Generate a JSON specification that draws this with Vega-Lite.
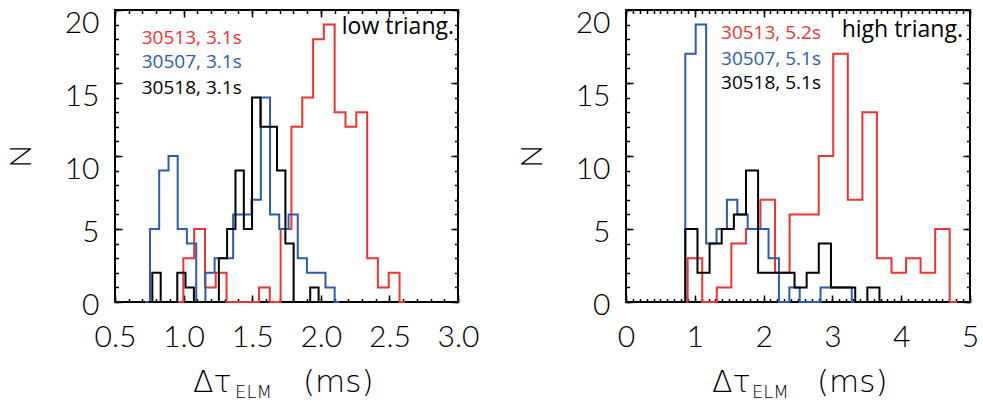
{
  "$schema": "https://vega.github.io/schema/vega-lite/v6.json",
  "background": "white",
  "padding": {"left": 5, "top": 7, "right": 0, "bottom": 0},
  "spacing": 168,
  "bounds": "flush",
  "config": {
    "view": {"stroke": "#000000", "strokeWidth": 2},
    "axis": {"domain": false, "grid": false, "tickColor": "#000000", "tickWidth": 1.5, "labelFont": "Lato", "labelFontSize": 30, "labelFontWeight": 300, "labelColor": "#000000", "titleFont": "Lato", "titleFontSize": 30, "titleFontWeight": 300, "titleColor": "#000000", "labelFlush": false, "labelOverlap": false}
  },
  "datasets": {
    "low": [
      {"s": "30513", "x": 0.959, "n": 0}, {"s": "30513", "x": 0.998, "n": 3}, {"s": "30513", "x": 1.077, "n": 5}, {"s": "30513", "x": 1.156, "n": 1}, {"s": "30513", "x": 1.234, "n": 2}, {"s": "30513", "x": 1.313, "n": 0}, {"s": "30513", "x": 1.392, "n": 0}, {"s": "30513", "x": 1.471, "n": 0}, {"s": "30513", "x": 1.550, "n": 1}, {"s": "30513", "x": 1.628, "n": 0}, {"s": "30513", "x": 1.707, "n": 5}, {"s": "30513", "x": 1.786, "n": 12}, {"s": "30513", "x": 1.865, "n": 14}, {"s": "30513", "x": 1.944, "n": 18}, {"s": "30513", "x": 2.022, "n": 19}, {"s": "30513", "x": 2.101, "n": 13}, {"s": "30513", "x": 2.180, "n": 12}, {"s": "30513", "x": 2.259, "n": 13}, {"s": "30513", "x": 2.338, "n": 3}, {"s": "30513", "x": 2.416, "n": 1}, {"s": "30513", "x": 2.495, "n": 2}, {"s": "30513", "x": 2.574, "n": 0}, {"s": "30513", "x": 2.613, "n": 0},
      {"s": "30507", "x": 0.721, "n": 0}, {"s": "30507", "x": 0.755, "n": 5}, {"s": "30507", "x": 0.822, "n": 9}, {"s": "30507", "x": 0.890, "n": 10}, {"s": "30507", "x": 0.957, "n": 5}, {"s": "30507", "x": 1.024, "n": 4}, {"s": "30507", "x": 1.092, "n": 0}, {"s": "30507", "x": 1.159, "n": 2}, {"s": "30507", "x": 1.226, "n": 3}, {"s": "30507", "x": 1.293, "n": 3}, {"s": "30507", "x": 1.361, "n": 6}, {"s": "30507", "x": 1.428, "n": 6}, {"s": "30507", "x": 1.495, "n": 7}, {"s": "30507", "x": 1.563, "n": 14}, {"s": "30507", "x": 1.630, "n": 6}, {"s": "30507", "x": 1.697, "n": 5}, {"s": "30507", "x": 1.765, "n": 6}, {"s": "30507", "x": 1.832, "n": 3}, {"s": "30507", "x": 1.899, "n": 2}, {"s": "30507", "x": 1.966, "n": 2}, {"s": "30507", "x": 2.034, "n": 1}, {"s": "30507", "x": 2.101, "n": 0}, {"s": "30507", "x": 2.135, "n": 0},
      {"s": "30518", "x": 0.742, "n": 0}, {"s": "30518", "x": 0.772, "n": 2}, {"s": "30518", "x": 0.833, "n": 0}, {"s": "30518", "x": 0.893, "n": 0}, {"s": "30518", "x": 0.954, "n": 2}, {"s": "30518", "x": 1.014, "n": 1}, {"s": "30518", "x": 1.075, "n": 0}, {"s": "30518", "x": 1.136, "n": 0}, {"s": "30518", "x": 1.196, "n": 0}, {"s": "30518", "x": 1.257, "n": 3}, {"s": "30518", "x": 1.317, "n": 5}, {"s": "30518", "x": 1.378, "n": 9}, {"s": "30518", "x": 1.439, "n": 5}, {"s": "30518", "x": 1.499, "n": 14}, {"s": "30518", "x": 1.560, "n": 12}, {"s": "30518", "x": 1.620, "n": 12}, {"s": "30518", "x": 1.681, "n": 9}, {"s": "30518", "x": 1.742, "n": 4}, {"s": "30518", "x": 1.802, "n": 0}, {"s": "30518", "x": 1.863, "n": 0}, {"s": "30518", "x": 1.923, "n": 1}, {"s": "30518", "x": 1.984, "n": 0}, {"s": "30518", "x": 2.014, "n": 0}
    ],
    "high": [
      {"s": "30513", "x": 0.790, "n": 0}, {"s": "30513", "x": 0.896, "n": 3}, {"s": "30513", "x": 1.108, "n": 0}, {"s": "30513", "x": 1.320, "n": 1}, {"s": "30513", "x": 1.531, "n": 4}, {"s": "30513", "x": 1.743, "n": 5}, {"s": "30513", "x": 1.954, "n": 7}, {"s": "30513", "x": 2.166, "n": 2}, {"s": "30513", "x": 2.378, "n": 6}, {"s": "30513", "x": 2.589, "n": 6}, {"s": "30513", "x": 2.801, "n": 10}, {"s": "30513", "x": 3.012, "n": 17}, {"s": "30513", "x": 3.224, "n": 7}, {"s": "30513", "x": 3.436, "n": 13}, {"s": "30513", "x": 3.647, "n": 3}, {"s": "30513", "x": 3.859, "n": 2}, {"s": "30513", "x": 4.070, "n": 3}, {"s": "30513", "x": 4.282, "n": 2}, {"s": "30513", "x": 4.494, "n": 5}, {"s": "30513", "x": 4.705, "n": 0}, {"s": "30513", "x": 4.811, "n": 0},
      {"s": "30507", "x": 0.786, "n": 0}, {"s": "30507", "x": 0.862, "n": 17}, {"s": "30507", "x": 1.013, "n": 19}, {"s": "30507", "x": 1.165, "n": 4}, {"s": "30507", "x": 1.316, "n": 5}, {"s": "30507", "x": 1.467, "n": 7}, {"s": "30507", "x": 1.618, "n": 6}, {"s": "30507", "x": 1.769, "n": 5}, {"s": "30507", "x": 1.921, "n": 5}, {"s": "30507", "x": 2.072, "n": 3}, {"s": "30507", "x": 2.223, "n": 0}, {"s": "30507", "x": 2.374, "n": 1}, {"s": "30507", "x": 2.525, "n": 0}, {"s": "30507", "x": 2.676, "n": 0}, {"s": "30507", "x": 2.828, "n": 1}, {"s": "30507", "x": 2.979, "n": 1}, {"s": "30507", "x": 3.130, "n": 1}, {"s": "30507", "x": 3.281, "n": 0}, {"s": "30507", "x": 3.357, "n": 0},
      {"s": "30518", "x": 0.774, "n": 0}, {"s": "30518", "x": 0.862, "n": 5}, {"s": "30518", "x": 1.039, "n": 2}, {"s": "30518", "x": 1.215, "n": 4}, {"s": "30518", "x": 1.391, "n": 5}, {"s": "30518", "x": 1.568, "n": 6}, {"s": "30518", "x": 1.744, "n": 9}, {"s": "30518", "x": 1.920, "n": 2}, {"s": "30518", "x": 2.097, "n": 2}, {"s": "30518", "x": 2.273, "n": 2}, {"s": "30518", "x": 2.450, "n": 1}, {"s": "30518", "x": 2.626, "n": 2}, {"s": "30518", "x": 2.802, "n": 4}, {"s": "30518", "x": 2.979, "n": 1}, {"s": "30518", "x": 3.155, "n": 1}, {"s": "30518", "x": 3.332, "n": 0}, {"s": "30518", "x": 3.508, "n": 1}, {"s": "30518", "x": 3.684, "n": 0}, {"s": "30518", "x": 3.772, "n": 0}
    ]
  },
  "hconcat": [
    {
      "width": 343,
      "height": 292,
      "resolve": {"axis": {"x": "independent", "y": "independent"}},
      "layer": [
        {
          "data": {"name": "low"},
          "mark": {"type": "line", "interpolate": "step-after", "strokeWidth": 2},
          "encoding": {
            "x": {"field": "x", "type": "quantitative", "scale": {"domain": [0.5, 3.0], "nice": false, "zero": false},
                  "axis": {"orient": "bottom", "values": [0.5, 1.0, 1.5, 2.0, 2.5, 3.0], "format": ".1f", "tickSize": -7, "labelPadding": 27, "title": null}},
            "y": {"field": "n", "type": "quantitative", "scale": {"domain": [0, 20], "nice": false},
                  "axis": {"orient": "left", "values": [0, 5, 10, 15, 20], "tickSize": -7, "labelPadding": 23, "labelOffset": {"condition": {"test": "datum.value >= 10", "value": 13}, "value": 3}, "title": "N", "titlePadding": 35, "titleBaseline": "alphabetic", "minExtent": 50, "maxExtent": 50}},
            "color": {"field": "s", "type": "nominal", "scale": {"domain": ["30513", "30507", "30518"], "range": ["#ee3333", "#2d5da8", "#000000"]}, "legend": null}
          }
        },
        {
          "data": {"values": [{}]},
          "mark": {"type": "text", "align": "left", "baseline": "alphabetic", "font": "Open Sans", "fontSize": 19, "color": "#ee3333"},
          "encoding": {
            "x": {"datum": 0.695, "type": "quantitative", "axis": {"orient": "bottom", "values": [0.5,0.6,0.7,0.8,0.9,1.0,1.1,1.2,1.3,1.4,1.5,1.6,1.7,1.8,1.9,2.0,2.1,2.2,2.3,2.4,2.5,2.6,2.7,2.8,2.9,3.0], "tickSize": -3.5, "labels": false, "title": null}},
            "y": {"datum": 17.7, "type": "quantitative", "axis": {"orient": "left", "values": [0,1,2,3,4,5,6,7,8,9,10,11,12,13,14,15,16,17,18,19,20], "tickSize": -3.5, "labels": false, "title": null}},
            "text": {"value": "30513, 3.1s"}
          }
        },
        {
          "data": {"values": [{}]},
          "mark": {"type": "text", "align": "left", "baseline": "alphabetic", "font": "Open Sans", "fontSize": 19, "color": "#2d5da8"},
          "encoding": {
            "x": {"datum": 0.695, "type": "quantitative", "axis": {"orient": "top", "values": [0.5, 1.0, 1.5, 2.0, 2.5, 3.0], "tickSize": -7, "labels": false, "title": null}},
            "y": {"datum": 16.06, "type": "quantitative", "axis": {"orient": "right", "values": [0, 5, 10, 15, 20], "tickSize": -7, "labels": false, "title": null}},
            "text": {"value": "30507, 3.1s"}
          }
        },
        {
          "data": {"values": [{}]},
          "mark": {"type": "text", "align": "left", "baseline": "alphabetic", "font": "Open Sans", "fontSize": 19, "color": "#000000"},
          "encoding": {
            "x": {"datum": 0.695, "type": "quantitative", "axis": {"orient": "top", "values": [0.5,0.6,0.7,0.8,0.9,1.0,1.1,1.2,1.3,1.4,1.5,1.6,1.7,1.8,1.9,2.0,2.1,2.2,2.3,2.4,2.5,2.6,2.7,2.8,2.9,3.0], "tickSize": -3.5, "labels": false, "title": null}},
            "y": {"datum": 14.27, "type": "quantitative", "axis": {"orient": "right", "values": [0,1,2,3,4,5,6,7,8,9,10,11,12,13,14,15,16,17,18,19,20], "tickSize": -3.5, "labels": false, "title": null}},
            "text": {"value": "30518, 3.1s"}
          }
        },
        {
          "data": {"values": [{}]},
          "mark": {"type": "text", "align": "right", "baseline": "alphabetic", "font": "Open Sans", "fontSize": 23, "color": "#000000"},
          "encoding": {
            "x": {"datum": 2.971, "type": "quantitative", "axis": null},
            "y": {"datum": 18.38, "type": "quantitative", "axis": null},
            "text": {"value": "low triang."}
          }
        },
        {
          "data": {"values": [{}]},
          "mark": {"type": "text", "align": "left", "baseline": "alphabetic", "font": "DejaVu Sans", "fontWeight": 200, "fontSize": 30, "color": "#000000"},
          "encoding": {
            "x": {"datum": 1.068, "type": "quantitative", "axis": null},
            "y": {"datum": -6.15, "type": "quantitative", "axis": null},
            "text": {"value": "Δτ"}
          }
        },
        {
          "data": {"values": [{}]},
          "mark": {"type": "text", "align": "left", "baseline": "alphabetic", "font": "DejaVu Sans", "fontWeight": 200, "fontSize": 18, "color": "#000000"},
          "encoding": {
            "x": {"datum": 1.375, "type": "quantitative", "axis": null},
            "y": {"datum": -6.56, "type": "quantitative", "axis": null},
            "text": {"value": "ELM"}
          }
        },
        {
          "data": {"values": [{}]},
          "mark": {"type": "text", "align": "left", "baseline": "alphabetic", "font": "DejaVu Sans", "fontWeight": 200, "fontSize": 31, "color": "#000000"},
          "encoding": {
            "x": {"datum": 1.870, "type": "quantitative", "axis": null},
            "y": {"datum": -6.15, "type": "quantitative", "axis": null},
            "text": {"value": "(ms)"}
          }
        }
      ]
    },
    {
      "width": 344,
      "height": 292,
      "resolve": {"axis": {"x": "independent", "y": "independent"}},
      "layer": [
        {
          "data": {"name": "high"},
          "mark": {"type": "line", "interpolate": "step-after", "strokeWidth": 2},
          "encoding": {
            "x": {"field": "x", "type": "quantitative", "scale": {"domain": [0, 5], "nice": false, "zero": false},
                  "axis": {"orient": "bottom", "values": [0, 1, 2, 3, 4, 5], "format": "d", "tickSize": -7, "labelPadding": 27, "title": null}},
            "y": {"field": "n", "type": "quantitative", "scale": {"domain": [0, 20], "nice": false},
                  "axis": {"orient": "left", "values": [0, 5, 10, 15, 20], "tickSize": -7, "labelPadding": 23, "labelOffset": {"condition": {"test": "datum.value >= 10", "value": 13}, "value": 3}, "title": "N", "titlePadding": 35, "titleBaseline": "alphabetic", "minExtent": 50, "maxExtent": 50}},
            "color": {"field": "s", "type": "nominal", "scale": {"domain": ["30513", "30507", "30518"], "range": ["#ee3333", "#2d5da8", "#000000"]}, "legend": null}
          }
        },
        {
          "data": {"values": [{}]},
          "mark": {"type": "text", "align": "left", "baseline": "alphabetic", "font": "Open Sans", "fontSize": 19, "color": "#ee3333"},
          "encoding": {
            "x": {"datum": 1.381, "type": "quantitative", "axis": {"orient": "bottom", "values": [0,0.1,0.2,0.3,0.4,0.5,0.6,0.7,0.8,0.9,1.0,1.1,1.2,1.3,1.4,1.5,1.6,1.7,1.8,1.9,2.0,2.1,2.2,2.3,2.4,2.5,2.6,2.7,2.8,2.9,3.0,3.1,3.2,3.3,3.4,3.5,3.6,3.7,3.8,3.9,4.0,4.1,4.2,4.3,4.4,4.5,4.6,4.7,4.8,4.9,5.0], "tickSize": -3.5, "labels": false, "title": null}},
            "y": {"datum": 18.0, "type": "quantitative", "axis": {"orient": "left", "values": [0,1,2,3,4,5,6,7,8,9,10,11,12,13,14,15,16,17,18,19,20], "tickSize": -3.5, "labels": false, "title": null}},
            "text": {"value": "30513, 5.2s"}
          }
        },
        {
          "data": {"values": [{}]},
          "mark": {"type": "text", "align": "left", "baseline": "alphabetic", "font": "Open Sans", "fontSize": 19, "color": "#2d5da8"},
          "encoding": {
            "x": {"datum": 1.381, "type": "quantitative", "axis": {"orient": "top", "values": [0, 1, 2, 3, 4, 5], "tickSize": -7, "labels": false, "title": null}},
            "y": {"datum": 16.26, "type": "quantitative", "axis": {"orient": "right", "values": [0, 5, 10, 15, 20], "tickSize": -7, "labels": false, "title": null}},
            "text": {"value": "30507, 5.1s"}
          }
        },
        {
          "data": {"values": [{}]},
          "mark": {"type": "text", "align": "left", "baseline": "alphabetic", "font": "Open Sans", "fontSize": 19, "color": "#000000"},
          "encoding": {
            "x": {"datum": 1.381, "type": "quantitative", "axis": {"orient": "top", "values": [0,0.1,0.2,0.3,0.4,0.5,0.6,0.7,0.8,0.9,1.0,1.1,1.2,1.3,1.4,1.5,1.6,1.7,1.8,1.9,2.0,2.1,2.2,2.3,2.4,2.5,2.6,2.7,2.8,2.9,3.0,3.1,3.2,3.3,3.4,3.5,3.6,3.7,3.8,3.9,4.0,4.1,4.2,4.3,4.4,4.5,4.6,4.7,4.8,4.9,5.0], "tickSize": -3.5, "labels": false, "title": null}},
            "y": {"datum": 14.6, "type": "quantitative", "axis": {"orient": "right", "values": [0,1,2,3,4,5,6,7,8,9,10,11,12,13,14,15,16,17,18,19,20], "tickSize": -3.5, "labels": false, "title": null}},
            "text": {"value": "30518, 5.1s"}
          }
        },
        {
          "data": {"values": [{}]},
          "mark": {"type": "text", "align": "right", "baseline": "alphabetic", "font": "Open Sans", "fontSize": 23, "color": "#000000"},
          "encoding": {
            "x": {"datum": 4.898, "type": "quantitative", "axis": null},
            "y": {"datum": 18.15, "type": "quantitative", "axis": null},
            "text": {"value": "high triang."}
          }
        },
        {
          "data": {"values": [{}]},
          "mark": {"type": "text", "align": "left", "baseline": "alphabetic", "font": "DejaVu Sans", "fontWeight": 200, "fontSize": 30, "color": "#000000"},
          "encoding": {
            "x": {"datum": 1.25, "type": "quantitative", "axis": null},
            "y": {"datum": -6.15, "type": "quantitative", "axis": null},
            "text": {"value": "Δτ"}
          }
        },
        {
          "data": {"values": [{}]},
          "mark": {"type": "text", "align": "left", "baseline": "alphabetic", "font": "DejaVu Sans", "fontWeight": 200, "fontSize": 18, "color": "#000000"},
          "encoding": {
            "x": {"datum": 1.831, "type": "quantitative", "axis": null},
            "y": {"datum": -6.56, "type": "quantitative", "axis": null},
            "text": {"value": "ELM"}
          }
        },
        {
          "data": {"values": [{}]},
          "mark": {"type": "text", "align": "left", "baseline": "alphabetic", "font": "DejaVu Sans", "fontWeight": 200, "fontSize": 31, "color": "#000000"},
          "encoding": {
            "x": {"datum": 2.776, "type": "quantitative", "axis": null},
            "y": {"datum": -6.15, "type": "quantitative", "axis": null},
            "text": {"value": "(ms)"}
          }
        }
      ]
    }
  ]
}
